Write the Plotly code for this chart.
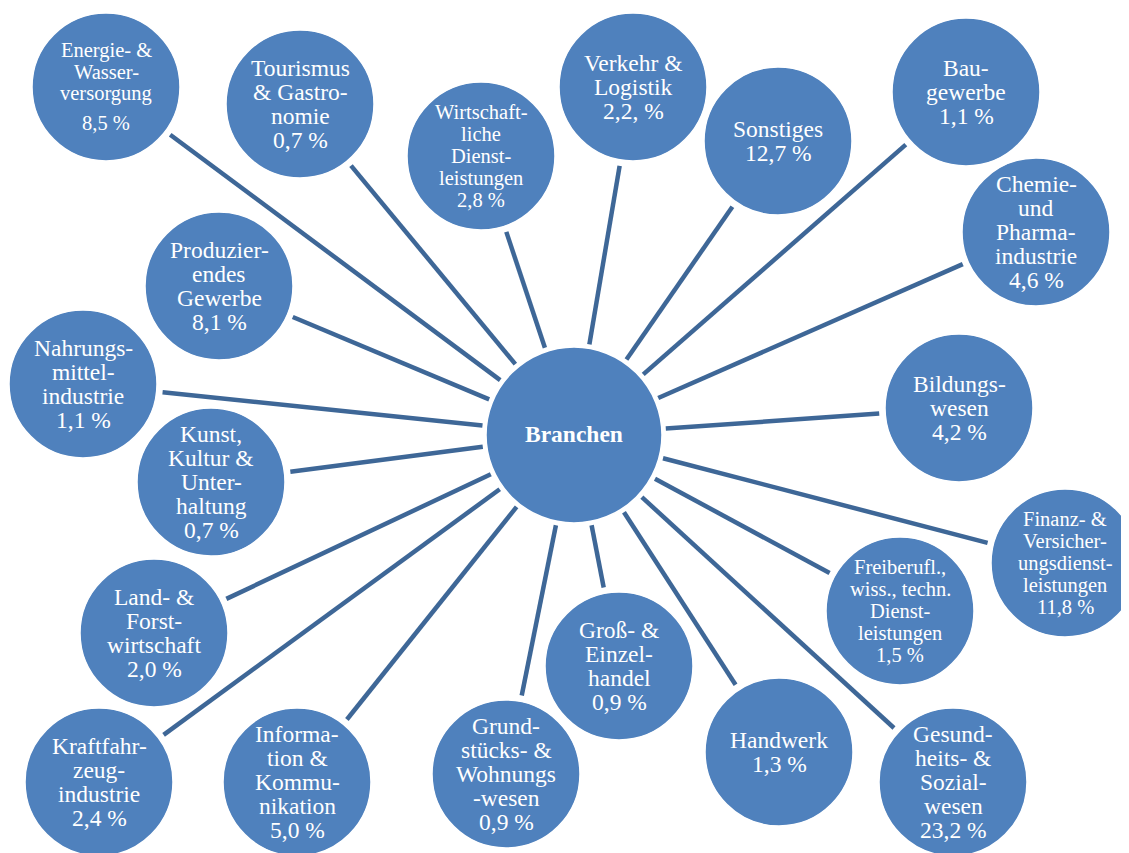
import math
import plotly.graph_objects as go

# ---------------- data ----------------
hub_label = "Branchen"
branches = [
    "Energie- &<br>Wasser-<br>versorgung",
    "Tourismus<br>& Gastro-<br>nomie",
    "Wirtschaft-<br>liche<br>Dienst-<br>leistungen",
    "Verkehr &<br>Logistik",
    "Sonstiges",
    "Bau-<br>gewerbe",
    "Chemie-<br>und<br>Pharma-<br>industrie",
    "Produzier-<br>endes<br>Gewerbe",
    "Nahrungs-<br>mittel-<br>industrie",
    "Kunst,<br>Kultur &<br>Unter-<br>haltung",
    "Bildungs-<br>wesen",
    "Finanz- &<br>Versicher-<br>ungsdienst-<br>leistungen",
    "Freiberufl.,<br>wiss., techn.<br>Dienst-<br>leistungen",
    "Land- &<br>Forst-<br>wirtschaft",
    "Kraftfahr-<br>zeug-<br>industrie",
    "Informa-<br>tion &<br>Kommu-<br>nikation",
    "Grund-<br>stücks- &<br>Wohnungs<br>-wesen",
    "Groß- &<br>Einzel-<br>handel",
    "Handwerk",
    "Gesund-<br>heits- &<br>Sozial-<br>wesen",
]
share_labels = [
    "8,5 %", "0,7 %", "2,8 %", "2,2, %", "12,7 %", "1,1 %", "4,6 %",
    "8,1 %", "1,1 %", "0,7 %", "4,2 %", "11,8 %", "1,5 %", "2,0 %",
    "2,4 %", "5,0 %", "0,9 %", "0,9 %", "1,3 %", "23,2 %",
]

# ---------------- layout (pixel positions / sizes / styles) ----------------
W, H = 1129, 853
OFF = 8  # page body margin in the browser
hub_x, hub_y, hub_r = 574, 435, 88
pos_x = [106, 300, 481, 633, 778, 966, 1036, 219, 83, 211,
         959, 1065, 900, 154, 99, 297, 506, 619, 779, 953]
pos_y = [87, 104, 156, 87, 141, 92, 232, 286, 384, 482,
         408, 563, 611, 633, 782, 782, 774, 666, 752, 782]
sat_r = 74
font_sizes = [20.5, 23.5, 20.5, 23.5, 23.5, 23.5, 23.5, 23.5, 23.5, 23.5,
              23.5, 20.5, 20.5, 23.5, 23.5, 23.5, 23.5, 23.5, 23.5, 23.5]
line_steps = [21.5, 24, 22, 24, 24, 24, 24, 24, 24, 24,
              24, 22, 22, 24, 24, 24, 24, 24, 24, 24]
value_gap = [8, 0, 0, 0, 0, 0, 0, 0, 0, 0, 0, 0, 0, 0, 0, 0, 0, 0, 0, 0]
hub_gap, sat_gap = 4, 6
FILL = "#4F81BD"
LINE = "#3E6797"
FONT = "Liberation Serif, 'Times New Roman', Times, 'DejaVu Serif', serif"

fig = go.Figure()

# spokes
lx, ly = [], []
for cx, cy in zip(pos_x, pos_y):
    dx, dy = cx - hub_x, cy - hub_y
    d = math.hypot(dx, dy)
    ux, uy = dx / d, dy / d
    lx += [hub_x + ux * (hub_r + hub_gap), cx - ux * (sat_r + sat_gap), None]
    ly += [hub_y + uy * (hub_r + hub_gap), cy - uy * (sat_r + sat_gap), None]
fig.add_trace(go.Scatter(x=lx, y=ly, mode="lines",
                         line=dict(color=LINE, width=4.5),
                         hoverinfo="skip", showlegend=False))

shapes = []
def circle(cx, cy, r):
    shapes.append(dict(type="circle", xref="x", yref="y",
                       x0=cx - r, x1=cx + r, y0=cy - r, y1=cy + r,
                       fillcolor=FILL, line=dict(color="white", width=1.5),
                       layer="above"))

circle(hub_x, hub_y, hub_r)
annotations = [dict(x=hub_x, y=hub_y - 1, xref="x", yref="y", text="<b>" + hub_label + "</b>",
                    showarrow=False, font=dict(family=FONT, size=23.5, color="white"),
                    xanchor="center", yanchor="middle")]

for name, val, cx, cy, fs, sp, gap in zip(branches, share_labels, pos_x, pos_y,
                                          font_sizes, line_steps, value_gap):
    circle(cx, cy, sat_r)
    lines = name.split("<br>") + [val]
    n = len(lines)
    total = (n - 1) * sp + gap
    y0 = cy - total / 2
    for i, t in enumerate(lines):
        yy = y0 + i * sp + (gap if i == n - 1 else 0)
        annotations.append(dict(x=cx, y=yy, xref="x", yref="y", text=t,
                                showarrow=False,
                                font=dict(family=FONT, size=fs, color="white"),
                                xanchor="center", yanchor="middle"))

fig.update_layout(
    width=W - OFF, height=H - OFF,
    margin=dict(l=0, r=0, t=0, b=0),
    paper_bgcolor="white", plot_bgcolor="white",
    font=dict(family=FONT),
    xaxis=dict(range=[OFF, W], visible=False, fixedrange=True),
    yaxis=dict(range=[H, OFF], visible=False, fixedrange=True),
    shapes=shapes, annotations=annotations, showlegend=False,
)

fig.write_html("out.html")
